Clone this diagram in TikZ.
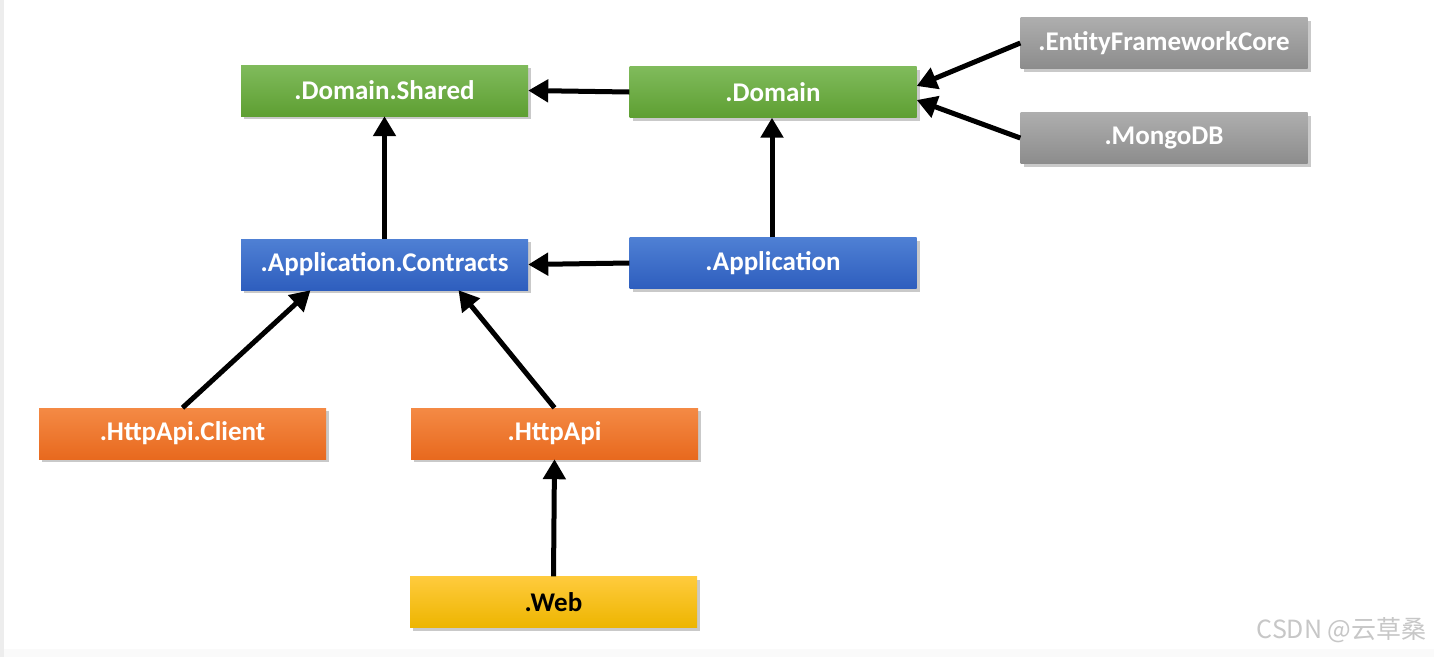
\documentclass[tikz,border=0pt]{standalone}
\usepackage{fontspec}
\setmainfont{Carlito}
\newfontfamily\cjk{Noto Sans CJK SC}
\usetikzlibrary{arrows.meta,shadows}
\definecolor{gtop}{HTML}{80BB5C}\definecolor{gbot}{HTML}{5E9F32}
\definecolor{btop}{HTML}{4F80D4}\definecolor{bbot}{HTML}{2E5EBE}
\definecolor{otop}{HTML}{F48A45}\definecolor{obot}{HTML}{E8691E}
\definecolor{ytop}{HTML}{FFCB3D}\definecolor{ybot}{HTML}{EDB500}
\definecolor{stop}{HTML}{AEAEAE}\definecolor{sbot}{HTML}{8C8C8C}
\tikzset{
  box/.style={minimum width=287pt, minimum height=51pt, inner sep=0pt,
    font=\fontsize{27}{30}\selectfont\bfseries, text=white,
    drop shadow={shadow xshift=3pt, shadow yshift=-3pt, opacity=0.35, fill=black!60}},
  greenbox/.style={box, top color=gtop, bottom color=gbot},
  bluebox/.style={box, top color=btop, bottom color=bbot},
  orangebox/.style={box, top color=otop, bottom color=obot},
  yellowbox/.style={box, top color=ytop, bottom color=ybot, text=black},
  graybox/.style={box, top color=stop, bottom color=sbot},
  dep/.style={line width=5pt, -{Triangle[length=20pt,width=22pt]}, black}
}
\begin{document}
\begin{tikzpicture}[x=1pt,y=-1pt]
\useasboundingbox (0,0) rectangle (1434,657);
\fill[white] (0,0) rectangle (1434,657);
\fill[black!7] (0,0) rectangle (4,657);
\fill[black!2] (4,649) rectangle (1434,657);

\node[greenbox] (dshared) at (384.5,90.5) {.Domain.Shared};
\node[greenbox] (domain) at (773,92) {.Domain};
\node[graybox] (efc) at (1164,43) {.EntityFrameworkCore};
\node[graybox] (mongo) at (1164,138) {.MongoDB};
\node[bluebox] (acontr) at (384.5,264.5) {.Application.Contracts};
\node[bluebox] (app) at (773,263) {.Application};
\node[orangebox] (client) at (182.5,433.5) {.HttpApi.Client};
\node[orangebox] (httpapi) at (554.5,433.5) {.HttpApi};
\node[yellowbox] (web) at (553.5,602) {.Web};

\draw[dep] (efc.west) -- ([yshift=6pt]domain.east);
\draw[dep] (mongo.west) -- ([yshift=-8pt]domain.east);
\draw[dep] (domain.west) -- (dshared.east);
\draw[dep] ([xshift=-1pt]app.north) -- ([xshift=-1pt]domain.south);
\draw[dep] (acontr.north) -- (dshared.south);
\draw[dep] (app.west) -- (acontr.east);
\draw[dep] (client.north) -- ([xshift=-74pt]acontr.south);
\draw[dep] (httpapi.north) -- ([xshift=74pt]acontr.south);
\draw[dep] (web.north) -- (httpapi.south);

\node[anchor=east, text=black!22, font=\cjk\fontsize{25}{28}\selectfont] (wm) at (1430,630) {CSDN @云草桑};
\end{tikzpicture}
\end{document}
